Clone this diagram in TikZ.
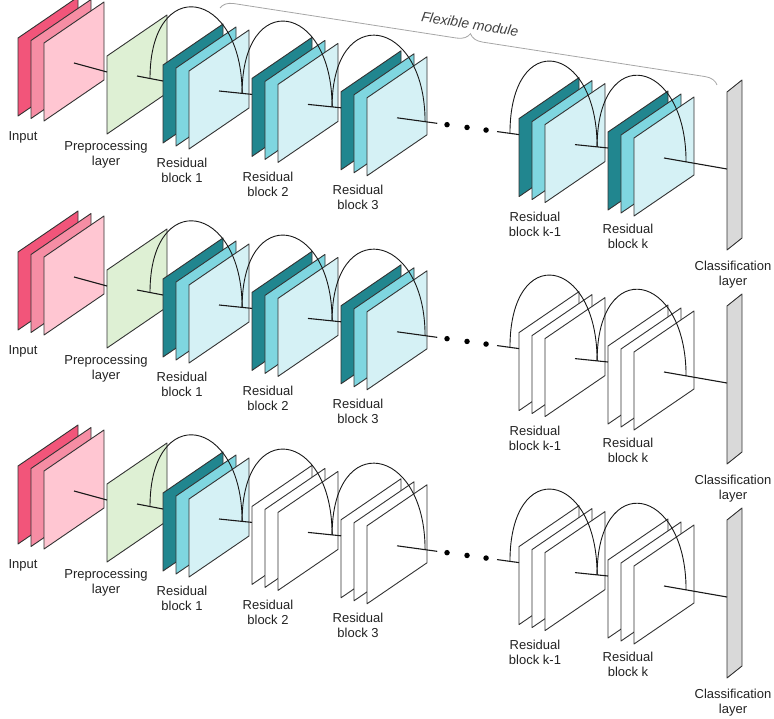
\documentclass[tikz,border=0pt]{standalone}
\usepackage{fontspec}
\setmainfont{Liberation Sans}
\usetikzlibrary{calc,decorations.pathreplacing}

\definecolor{edgegray}{HTML}{333333}
\definecolor{inputA}{HTML}{F2557A}
\definecolor{inputB}{HTML}{F68DA4}
\definecolor{inputC}{HTML}{FFC6D2}
\definecolor{prepfill}{HTML}{DEF0D4}
\definecolor{palCa}{HTML}{21868F}
\definecolor{palCb}{HTML}{7FD6E0}
\definecolor{palCc}{HTML}{D5F1F5}
\definecolor{palWa}{HTML}{FFFFFF}
\definecolor{palWb}{HTML}{FFFFFF}
\definecolor{palWc}{HTML}{FFFFFF}
\definecolor{classfill}{HTML}{D9D9D9}
\definecolor{bracegray}{HTML}{A6A6A6}
\definecolor{labeltext}{HTML}{222222}

\tikzset{
  sheet/.style={draw=edgegray, line width=0.9pt, line join=round},
  link/.style={draw=black!90, line width=1.1pt},
  skiparc/.style={draw=black!90, line width=0.9pt},
  lbl/.style={font=\fontsize{13}{15}\selectfont, text=labeltext, align=center, inner sep=0pt},
  dotmark/.style={circle, fill=black, inner sep=0pt, minimum size=5.5pt},
}

% one feature map: a parallelogram with its top-left corner at (#2,#3)
\newcommand\fmap[4]{% name, x, y, fill
  \filldraw[sheet, fill=#4] (#2,#3) coordinate (#1) -- ++(60,-41) -- ++(0,78) -- ++(-60,41) -- cycle;
}

% a residual block: three stacked maps; #4 is the palette letter (C or W)
\newcommand\resblock[4]{% name, x, y, palette
  \fmap{#1-a}{#2}{#3}{pal#4a}
  \fmap{#1-b}{#2+13}{#3+3}{pal#4b}
  \fmap{#1-c}{#2+26}{#3+6}{pal#4c}
  \coordinate (#1-in) at (#2,#3+16);
  \coordinate (#1-mid) at (#2+56,#3+26);
}

% one network: #1 row id, #2 vertical offset, #3-#7 palettes of the five blocks
\newcommand\netrow[7]{%
  \begin{scope}[shift={(0,#2)}]
    % input tensor
    \fmap{#1-x1}{18}{38}{inputA}
    \fmap{#1-x2}{31}{40.5}{inputB}
    \fmap{#1-x3}{44}{43}{inputC}
    \coordinate (#1-xmid) at (74,63);
    % preprocessing layer
    \fmap{#1-pre}{107}{56}{prepfill}
    \coordinate (#1-pre-in) at (107,72);
    \coordinate (#1-pre-mid) at (137,76);
    \draw[link] (#1-xmid) -- (#1-pre-in);
    % residual blocks
    \resblock{#1-b1}{163}{65}{#3}
    \draw[link] (#1-pre-mid) -- (#1-b1-in);
    \resblock{#1-b2}{252}{78.4}{#4}
    \draw[link] (#1-b1-mid) -- (#1-b2-in);
    \resblock{#1-b3}{341}{91.8}{#5}
    \draw[link] (#1-b2-mid) -- (#1-b3-in);
    \resblock{#1-bj}{519}{118.6}{#6}
    \draw[link] (#1-b3-mid) -- ($(#1-b3-mid)!0.33!(#1-bj-in)$);
    \draw[link] ($(#1-b3-mid)!0.82!(#1-bj-in)$) -- (#1-bj-in);
    \node[dotmark] (#1-d1) at ($(#1-b3-mid)!0.41!(#1-bj-in)$) {};
    \node[dotmark] (#1-d2) at ($(#1-b3-mid)!0.574!(#1-bj-in)$) {};
    \node[dotmark] (#1-d3) at ($(#1-b3-mid)!0.73!(#1-bj-in)$) {};
    \resblock{#1-bk}{608}{132}{#7}
    \draw[link] (#1-bj-mid) -- (#1-bk-in);
    % classification layer
    \filldraw[sheet, fill=classfill] (727,92) coordinate (#1-cls) -- ++(15,-12) -- ++(0,158) -- ++(-15,12) -- cycle;
    \coordinate (#1-cls-in) at (727,169);
    \draw[link] (#1-bk-mid) -- (#1-cls-in);
    % skip connections
    \coordinate (#1-j0) at ($(#1-pre-mid)!0.5!(#1-b1-in)$);
    \coordinate (#1-j1) at ($(#1-b1-mid)!0.7!(#1-b2-in)$);
    \coordinate (#1-j2) at ($(#1-b2-mid)!0.73!(#1-b3-in)$);
    \coordinate (#1-j3) at ($(#1-b3-mid)!0.23!(#1-bj-in)$);
    \coordinate (#1-j4) at ($(#1-b3-mid)!0.926!(#1-bj-in)$);
    \coordinate (#1-j5) at ($(#1-bj-mid)!0.67!(#1-bk-in)$);
    \coordinate (#1-j6) at ($(#1-bk-mid)!0.35!(#1-cls-in)$);
    \foreach \ja/\jb in {j0/j1, j1/j2, j2/j3, j4/j5, j5/j6}
      \draw[skiparc] (#1-\ja) .. controls +(0,-105) and +(0,-105) .. (#1-\jb);
    % labels
    \node[lbl] (#1-lx) at (23,137) {Input};
    \node[lbl] (#1-lp) at (106,155) {Preprocessing\\layer};
    \node[lbl] (#1-l1) at (182,170) {Residual\\block 1};
    \node[lbl] (#1-l2) at (268,184) {Residual\\block 2};
    \node[lbl] (#1-l3) at (358,197) {Residual\\block 3};
    \node[lbl] (#1-lj) at (535,224.5) {Residual\\block k-1};
    \node[lbl] (#1-lk) at (628,236) {Residual\\block k};
    \node[lbl] (#1-lc) at (733,275) {Classification\\layer};
  \end{scope}
}

\begin{document}
\begin{tikzpicture}[x=1pt, y=-1pt]
  \useasboundingbox (0,0) rectangle (774,719);
  \netrow{r1}{0}{C}{C}{C}{C}{C}
  \netrow{r2}{214}{C}{C}{C}{W}{W}
  \netrow{r3}{428}{C}{W}{W}{W}{W}
  % the interchangeable part of the first network
  \coordinate (braceL) at (220,8);
  \coordinate (braceR) at (717,85);
  \draw[bracegray, line width=0.8pt, decorate, decoration={brace, amplitude=13pt}] (braceL) -- (braceR);
  \node[font=\fontsize{14}{16}\selectfont\itshape, text=black!75, rotate=-8.8, inner sep=0pt] (flex) at (470,24) {Flexible module};
\end{tikzpicture}
\end{document}
